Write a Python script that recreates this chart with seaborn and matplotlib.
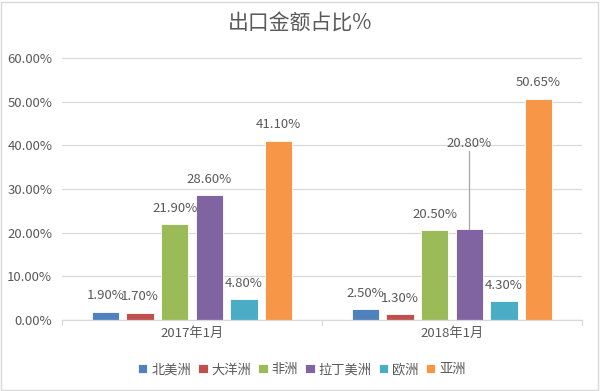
import matplotlib
matplotlib.use("Agg")
import matplotlib.pyplot as plt
import seaborn as sns
import pandas as pd
from matplotlib.ticker import FuncFormatter, MultipleLocator
from matplotlib.patches import Rectangle

categories = ["2017年1月", "2018年1月"]
regions = ["北美洲", "大洋洲", "非洲", "拉丁美洲", "欧洲", "亚洲"]
values_2017 = [1.90, 1.70, 21.90, 28.60, 4.80, 41.10]
values_2018 = [2.50, 1.30, 20.50, 20.80, 4.30, 50.65]
colors = ["#4F81BD", "#C0504D", "#9BBB59", "#8064A2", "#4BACC6", "#F79646"]

rows = []
for cat, vals in zip(categories, [values_2017, values_2018]):
    for r, v in zip(regions, vals):
        rows.append({"month": cat, "region": r, "value": v})
df = pd.DataFrame(rows)

sns.set_theme(style="white")
plt.rcParams["font.family"] = ["Noto Sans CJK SC", "DejaVu Sans"]
text_color = "#595959"
fs = 9.5

fig = plt.figure(figsize=(6.0, 3.91), dpi=100)
ax = fig.add_axes([0.1033, 0.1816, 0.8667, 0.670])

sns.barplot(data=df, x="month", y="value", hue="region", hue_order=regions,
            order=categories, palette=colors, saturation=1, width=0.8, gap=0.22,
            edgecolor="white", linewidth=0.6, ax=ax, legend=True)

ax.set_ylim(0, 60)
ax.yaxis.set_major_locator(MultipleLocator(10))
ax.yaxis.set_major_formatter(FuncFormatter(lambda v, p: f"{v:.2f}%"))
ax.set_xlim(-0.5, 1.5)
ax.set_xlabel("")
ax.set_ylabel("")
ax.grid(axis="y", color="#D9D9D9", linewidth=0.9)
ax.set_axisbelow(True)
for s in ["top", "right", "left"]:
    ax.spines[s].set_visible(False)
ax.spines["bottom"].set_color("#D9D9D9")
ax.spines["bottom"].set_linewidth(0.9)
ax.tick_params(axis="y", length=0, labelsize=fs, labelcolor=text_color, pad=7)
ax.tick_params(axis="x", length=0, labelsize=fs, labelcolor=text_color, pad=5)
for xt in [-0.5, 0.5, 1.5]:
    ax.plot([xt, xt], [0, -1.2], color="#D9D9D9", lw=0.9, clip_on=False)

# data labels
for i, cont in enumerate(ax.containers):
    for j, bar in enumerate(cont):
        h = bar.get_height()
        xc = bar.get_x() + bar.get_width() / 2
        label = f"{h:.2f}%"
        if j == 1 and i == 3:
            ytxt = 40.4
            ax.plot([xc, xc], [h, ytxt - 1.7], color="#A6A6A6", lw=0.9)
            ax.text(xc, ytxt, label, ha="center", va="center", fontsize=fs,
                    color=text_color)
        else:
            ax.annotate(label, (xc, h), xytext=(0, 11.5), textcoords="offset points",
                        ha="center", va="center", fontsize=fs, color=text_color)

leg = ax.legend(loc="center", bbox_to_anchor=(0.503, 0.054), bbox_transform=fig.transFigure,
                ncol=6, frameon=False, fontsize=fs, handlelength=0.7, handleheight=0.7,
                handletextpad=0.3, columnspacing=0.55)
for t in leg.get_texts():
    t.set_color(text_color)

fig.text(0.5, 0.94, "出口金额占比%", ha="center", va="center", fontsize=15,
         color=text_color)

fig.patches.append(Rectangle((0.002, 0.003), 0.995, 0.993, transform=fig.transFigure,
                             fill=False, edgecolor="#D9D9D9", lw=1))

fig.savefig("out.png", dpi=100)
